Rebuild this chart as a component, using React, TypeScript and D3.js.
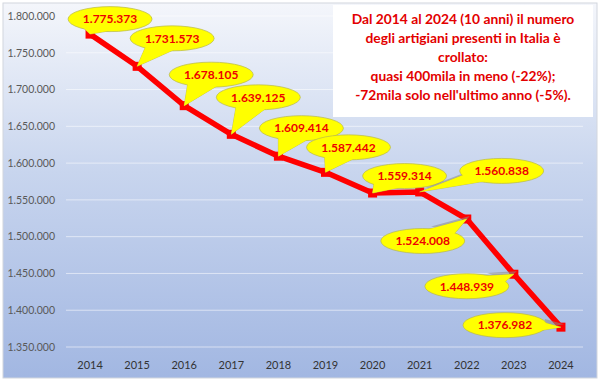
import React from 'react';
import * as d3 from 'd3';

const years = ['2014', '2015', '2016', '2017', '2018', '2019', '2020', '2021', '2022', '2023', '2024'];
const artigiani = [1775373, 1731573, 1678105, 1639125, 1609414, 1587442, 1559314, 1560838, 1524008, 1448939, 1376982];
const yTicks = [1350000, 1400000, 1450000, 1500000, 1550000, 1600000, 1650000, 1700000, 1750000, 1800000];
const noteLines = [
  'Dal 2014 al 2024 (10 anni) il numero',
  'degli artigiani presenti in Italia è',
  'crollato:',
  'quasi 400mila in meno (-22%);',
  "-72mila solo nell'ultimo anno (-5%).",
];

// layout: callout offsets (bubble centre relative to its point)
const calloutOffsets: [number, number][] = [
  [20, -15], [35, -28], [27, -31], [27, -37], [23, -28], [23, -25],
  [32, -17], [82, -21], [-44, 22], [-47, 12], [-56, -2],
];

const W = 600;
const H = 385;

const itLocale = d3.formatLocale({ decimal: ',', thousands: '.', grouping: [3], currency: ['€', ''] });
const fmt = itLocale.format(',d');

export default function App() {
  const x = d3.scaleBand<string>().domain(years).range([66.5, 584.5]).padding(0);
  const y = d3.scaleLinear().domain([1350000, 1800000]).range([347, 16]);
  const cx = (yr: string) => (x(yr) as number) + x.bandwidth() / 2;

  const line = d3.line<number>().x((_, i) => cx(years[i])).y((v) => y(v));

  const rx = 42;
  const ry = 12.5;
  const font = 'Lato, "Liberation Sans", sans-serif';

  const callouts = artigiani.map((v, i) => {
    const px = cx(years[i]);
    const py = y(v);
    const bx = px + calloutOffsets[i][0];
    const by = py + calloutOffsets[i][1];
    const phi = Math.atan2((py - by) / ry, (px - bx) / rx);
    const a1 = phi - 0.4;
    const a2 = phi + 0.4;
    const b1: [number, number] = [bx + rx * 0.92 * Math.cos(a1), by + ry * 0.92 * Math.sin(a1)];
    const b2: [number, number] = [bx + rx * 0.92 * Math.cos(a2), by + ry * 0.92 * Math.sin(a2)];
    const tail = `M${b1[0]},${b1[1]}L${px},${py}L${b2[0]},${b2[1]}Z`;
    return { v, px, py, bx, by, tail };
  });

  return (
    <svg width={W} height={H} style={{ position: 'absolute', left: 0, top: 0, display: 'block' }}>
      <defs>
        <linearGradient id="bg" x1="0" y1="0" x2="0" y2="1">
          <stop offset="0%" stopColor="#f4f6fb" />
          <stop offset="45%" stopColor="#c8d5ee" />
          <stop offset="100%" stopColor="#a2b7e2" />
        </linearGradient>
      </defs>
      <rect x={0} y={0} width={W} height={H} fill="#ffffff" />
      <rect x={3} y={3} width={594} height={375} fill="url(#bg)" stroke="#d2d6de" strokeWidth={1} />

      {yTicks.map((t) => (
        <g key={t}>
          <line x1={66} x2={583} y1={y(t)} y2={y(t)} stroke="#ffffff" strokeOpacity={0.55} strokeWidth={1} />
          <text x={55} y={y(t) + 3.8} textAnchor="end" fontFamily={font} fontSize={10.5} fill="#595959">
            {fmt(t)}
          </text>
        </g>
      ))}

      {years.map((yr) => (
        <text key={yr} x={cx(yr)} y={369} textAnchor="middle" fontFamily={font} fontSize={11} fill="#333333">
          {yr}
        </text>
      ))}

      <path d={line(artigiani) || ''} fill="none" stroke="#ff0000" strokeWidth={5.5} strokeLinejoin="round" />
      {artigiani.map((v, i) => (
        <rect key={i} x={cx(years[i]) - 4.5} y={y(v) - 4.5} width={9} height={9} fill="#ff0000" />
      ))}

      {callouts.map((c, i) => (
        <g key={i}>
          <path d={c.tail} transform="translate(3,-3)" fill="#8c8c8c" fillOpacity={0.55} />
          <path d={c.tail} fill="#ffff00" stroke="#b8b84a" strokeWidth={0.7} />
          <ellipse cx={c.bx} cy={c.by} rx={rx} ry={ry} fill="#ffff00" stroke="#b8b84a" strokeWidth={0.7} />
          <path d={c.tail} fill="#ffff00" stroke="none" />
          <text x={c.bx} y={c.by + 4.3} textAnchor="middle" fontFamily={font} fontWeight="bold" fontSize={12} fill="#ee0000">
            {fmt(c.v)}
          </text>
        </g>
      ))}

      <rect x={333} y={5} width={260} height={112} fill="#ffffff" />
      {noteLines.map((l, i) => (
        <text key={i} x={463} y={24 + i * 19} textAnchor="middle" fontFamily={font} fontWeight="bold" fontSize={13.8} fill="#e30000">
          {l}
        </text>
      ))}
    </svg>
  );
}
